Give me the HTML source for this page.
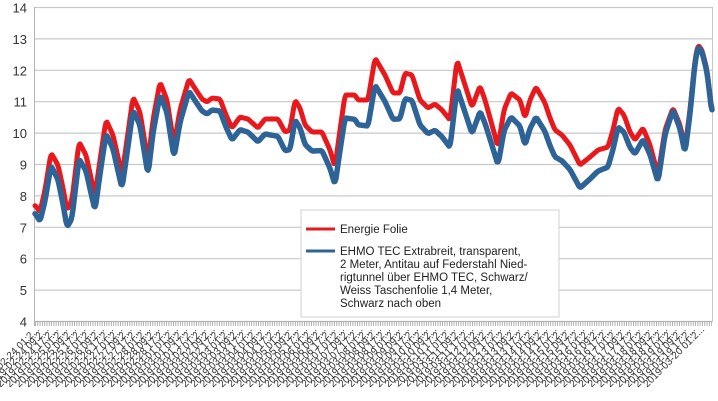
<!DOCTYPE html>
<html><head><meta charset="utf-8"><style>
html,body{margin:0;padding:0;background:#fff;}
svg{display:block;font-family:"Liberation Sans",sans-serif;}
</style></head><body>
<svg id="s" width="718" height="401" viewBox="0 0 718 401" xmlns="http://www.w3.org/2000/svg">
<defs>
<pattern id="tk" x="35" y="0" width="2.3" height="10" patternUnits="userSpaceOnUse">
<rect x="0" y="0" width="0.9" height="10" fill="#aaa"/>
</pattern>
</defs>
<rect width="718" height="401" fill="#fff"/>
<g id="grid" stroke="#c8c8c8" stroke-width="1.2"></g>
<rect x="35" y="322" width="677" height="4" fill="url(#tk)"/>
<line x1="34.5" y1="7" x2="34.5" y2="326" stroke="#b3b3b3"/>
<line x1="712.5" y1="7" x2="712.5" y2="322" stroke="#c8c8c8"/>
<g id="ylab" font-size="13" fill="#333" text-anchor="end"></g>
<g id="xlab" font-size="10" fill="#333" text-anchor="end"></g>
<polyline id="red" fill="none" stroke="#e8191c" stroke-width="5" stroke-linejoin="round" stroke-linecap="round"/>
<polyline id="blue" fill="none" stroke="#2e6398" stroke-width="5.5" stroke-linejoin="round" stroke-linecap="round"/>
<rect x="301" y="210" width="258" height="107" fill="#fff" stroke="#d0d0d0"/>
<line x1="306" y1="229" x2="335" y2="229" stroke="#e8191c" stroke-width="3"/>
<line x1="306" y1="251" x2="335" y2="251" stroke="#2e6398" stroke-width="3"/>
<g font-size="11.5" fill="#222">
<text x="340" y="233">Energie Folie</text>
<text x="340" y="255">EHMO TEC Extrabreit, transparent,</text>
<text x="340" y="268">2 Meter, Antitau auf Federstahl Nied-</text>
<text x="340" y="281">rigtunnel über EHMO TEC, Schwarz/</text>
<text x="340" y="294">Weiss Taschenfolie 1,4 Meter,</text>
<text x="340" y="307">Schwarz nach oben</text>
</g>
</svg>
<script>
var NS="http://www.w3.org/2000/svg";
function el(t,a,txt){var e=document.createElementNS(NS,t);for(var k in a)e.setAttribute(k,a[k]);if(txt)e.textContent=txt;return e;}
var g=document.getElementById('grid'),yl=document.getElementById('ylab');
for(var v=4;v<=14;v++){var y=321.5-(v-4)*31.4;
 if(v>4)g.appendChild(el('line',{x1:35,x2:712,y1:y,y2:y}));
 else g.appendChild(el('line',{x1:35,x2:712,y1:y,y2:y,stroke:'#b3b3b3'}));
 yl.appendChild(el('text',{x:27,y:y+5},String(v)));}
var xl=document.getElementById('xlab');
var dates=[];
function pad(n){return n<10?'0'+n:''+n;}
for(var d=24;d<=28;d++)dates.push('02-'+pad(d));
for(var d=1;d<=20;d++)dates.push('03-'+pad(d));
var labs=[];
dates.forEach(function(dd){['01','09','17'].forEach(function(h){labs.push('2019-'+dd+' '+h+':2...');});});
labs=labs.slice(0,73);
for(var i=0;i<labs.length;i++){var x=40+i*(665/72);
 var t=el('text',{x:x,y:330,transform:'rotate(-45 '+x+' 330)'},labs[i]);xl.appendChild(t);}
var R=[[35,205],[40,212],[45,190],[51,153],[58,165],[63,188],[67,210],[72,200],[79,142],[86,155],[95,196],[100,160],[106,120],[113,135],[122,175],[127,140],[133,97],[140,112],[148,162],[153,120],[160,82],[167,100],[174,145],[180,110],[189,79],[196,90],[202,99],[207,102],[212,98],[220,99],[226,115],[232,128],[240,117],[248,119],[258,128],[265,119],[278,119],[285,132],[290,130],[295,100],[300,108],[305,125],[312,132],[322,132],[330,150],[335,167],[340,130],[345,95],[355,95],[358,100],[368,100],[375,58],[385,75],[393,93],[400,93],[405,73],[412,75],[420,100],[428,108],[435,104],[442,110],[450,120],[457,60],[465,85],[472,107],[480,86],[485,100],[492,125],[498,147],[504,110],[511,93],[520,100],[525,118],[530,100],[536,87],[545,103],[550,118],[555,130],[562,135],[570,145],[580,165],[590,157],[598,150],[608,147],[613,130],[618,108],[624,115],[630,132],[635,140],[643,128],[650,145],[658,175],[665,130],[673,108],[680,125],[685,148],[690,110],[695,60],[698,45],[702,50],[707,70],[712,112]];
var O=[[35,8],[70,18],[100,14],[200,12],[232,12],[260,14],[292,20],[335,18],[345,23],[375,27],[420,25],[457,28],[478,26],[498,18],[511,24],[536,30],[580,23],[618,19],[658,7],[673,2],[685,5],[698,2],[712,2]];
function interp(a,x){for(var i=0;i<a.length-1;i++){if(x>=a[i][0]&&x<=a[i+1][0]){var f=(x-a[i][0])/(a[i+1][0]-a[i][0]||1);return a[i][1]+f*(a[i+1][1]-a[i][1]);}}return a[a.length-1][1];}
var raw=[];for(var x=35;x<=712;x++)raw.push(interp(R,x));
var sm=[];var W=1;
for(var i=0;i<raw.length;i++){var s=0,n=0;for(var j=-W;j<=W;j++){var k=i+j;if(k>=0&&k<raw.length){s+=raw[k];n++;}}sm.push(s/n);}
var rp=[],bp=[];
for(var i=0;i<sm.length;i++){var x=35+i;rp.push(x+','+sm[i].toFixed(1));bp.push(x+','+(sm[i]+interp(O,x)).toFixed(1));}
document.getElementById('red').setAttribute('points',rp.join(' '));
document.getElementById('blue').setAttribute('points',bp.join(' '));
</script>
</body></html>
